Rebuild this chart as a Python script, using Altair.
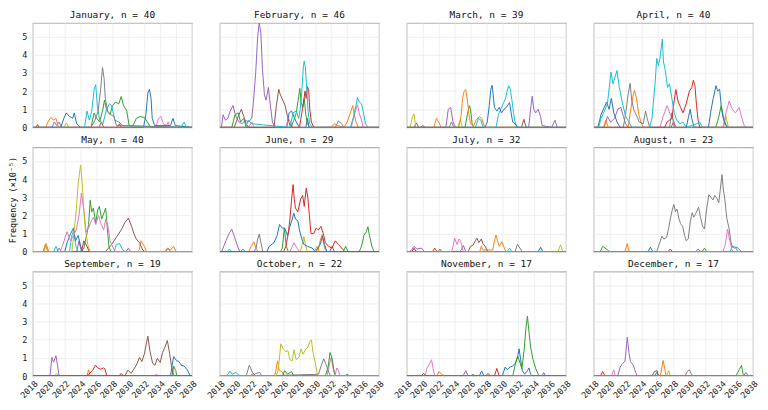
import altair as alt
import pandas as pd

TITLES = ["January, n = 40", "February, n = 46", "March, n = 39", "April, n = 40",
          "May, n = 40", "June, n = 29", "July, n = 32", "August, n = 23",
          "September, n = 19", "October, n = 22", "November, n = 17", "December, n = 17"]

COLOR_NAMES = ["blue", "orange", "green", "red", "purple", "brown", "pink", "gray", "olive", "cyan"]
COLOR_HEX = ["#1f77b4", "#ff7f0e", "#2ca02c", "#d62728", "#9467bd", "#8c564b", "#e377c2", "#7f7f7f", "#bcbd22", "#17becf"]

X_TICKS = list(range(2018, 2039, 2))
Y_TICKS = [0, 1, 2, 3, 4, 5]

JAN = [
    ("red", [(2018.4, 0), (2018.6, 0.15), (2018.8, 0), (2028.6, 0), (2028.9, 0.2), (2029.1, 0)]),
    ("olive", [(2021.9, 0), (2022.2, 0.25), (2022.5, 0)]),
    ("brown", [(2026.3, 0), (2026.6, 0.3), (2026.9, 0)]),
    ("purple", [(2020.4, 0), (2020.7, 0.3), (2021.0, 0.1), (2021.3, 0.3), (2021.6, 0)]),
    ("orange", [(2019.6, 0), (2020.0, 0.4), (2020.3, 0.55), (2020.6, 0.4), (2020.9, 0.5), (2021.2, 0)]),
    ("pink", [(2033.4, 0), (2033.8, 0.5), (2034.1, 0.6), (2034.4, 0.2), (2034.8, 0.1), (2035.0, 0.3), (2035.2, 0)]),
    ("blue", [(2021.5, 0), (2021.9, 0.5), (2022.2, 0.8), (2022.6, 0.6), (2023.0, 0.5), (2023.2, 0.8), (2023.5, 0.2),
              (2024.0, 0), (2031.9, 0), (2032.2, 0.7), (2032.45, 1.9), (2032.65, 2.1), (2032.85, 1.6), (2033.0, 0.5),
              (2033.3, 0.1), (2035.3, 0.1), (2035.6, 0.5), (2035.9, 0.1)]),
    ("green", [(2025.3, 0), (2025.7, 0.8), (2026.0, 0.5), (2026.4, 0.3), (2026.8, 1.0), (2027.0, 1.5), (2027.3, 0.9),
               (2027.7, 0.7), (2028.0, 1.2), (2028.4, 1.4), (2028.8, 1.3), (2029.1, 1.7), (2029.4, 1.2), (2029.8, 0.9),
               (2030.1, 0.1), (2030.6, 0.1), (2031.0, 0.5), (2031.5, 0.6), (2032.0, 0.55), (2032.4, 0.3), (2032.8, 0)]),
    ("cyan", [(2024.5, 0), (2024.8, 0.9), (2025.1, 0.4), (2025.4, 0.9), (2025.7, 2.1), (2025.9, 2.35), (2026.1, 1.2),
              (2026.4, 0.4), (2026.8, 0.2), (2027.2, 0.9), (2027.6, 1.3), (2027.9, 1.2), (2028.3, 0.4), (2028.8, 0.3),
              (2029.3, 0.1), (2036.6, 0), (2037.0, 0.3), (2037.3, 0)]),
    ("gray", [(2025.3, 0), (2025.8, 0.4), (2026.2, 0.9), (2026.5, 2.0), (2026.75, 3.3), (2026.95, 2.7), (2027.1, 1.6),
              (2027.4, 0.9), (2027.8, 0.7), (2028.2, 0.6), (2028.5, 0.1)]),
]

FEB = [
    ("gray", [(2032.5, 0), (2032.9, 0.35), (2033.3, 0.2), (2033.6, 0)]),
    ("blue", [(2026.4, 0), (2026.7, 0.8), (2027.0, 0.9), (2027.3, 0.6), (2027.6, 0.3), (2028.0, 0), (2028.8, 0),
              (2029.0, 0.5), (2029.2, 0)]),
    ("orange", [(2032.0, 0), (2032.4, 0.2), (2032.8, 0.1), (2033.6, 0), (2034.0, 0.3), (2034.4, 0.8), (2034.7, 1.2),
                (2034.9, 0.7), (2035.1, 0.3), (2035.4, 0)]),
    ("pink", [(2021.6, 0), (2022.0, 0.3), (2022.3, 0), (2026.3, 0), (2026.6, 0.5), (2026.9, 0.3), (2027.2, 0),
              (2034.5, 0), (2034.8, 0.5), (2035.1, 1.0), (2035.3, 1.25), (2035.5, 0.8), (2035.8, 0.4), (2036.0, 0)]),
    ("brown", [(2019.8, 0), (2020.3, 0.6), (2020.7, 1.0), (2021.0, 0.6), (2021.3, 0.2), (2021.6, 0), (2024.8, 0),
               (2025.1, 1.2), (2025.4, 2.1), (2025.6, 1.8), (2025.9, 1.5), (2026.2, 1.2), (2026.5, 0.6), (2026.8, 0.1),
               (2027.1, 0)]),
    ("green", [(2019.5, 0), (2019.9, 0.7), (2020.3, 0.8), (2020.6, 0.3), (2021.0, 0.5), (2021.3, 0), (2026.9, 0),
               (2027.3, 0.4), (2027.6, 0.8), (2027.9, 1.7), (2028.05, 2.15), (2028.2, 1.4), (2028.4, 1.1), (2028.6, 1.6),
               (2028.8, 0.7), (2029.0, 0.2), (2029.3, 0)]),
    ("red", [(2028.0, 0), (2028.3, 0.8), (2028.5, 1.3), (2028.7, 2.0), (2028.85, 1.6), (2029.0, 2.25), (2029.15, 2.1),
             (2029.3, 1.0), (2029.5, 0.3), (2029.8, 0)]),
    ("cyan", [(2021.2, 0), (2021.6, 0.4), (2022.0, 0.2), (2026.8, 0), (2027.2, 0.8), (2027.6, 0.9), (2027.9, 0.5),
              (2028.1, 1.0), (2028.3, 2.0), (2028.5, 3.4), (2028.6, 3.65), (2028.75, 3.3), (2028.9, 2.2), (2029.1, 0.8),
              (2029.3, 0.2), (2029.6, 0), (2034.4, 0), (2034.8, 0.6), (2035.1, 1.2), (2035.3, 1.64), (2035.5, 1.4),
              (2035.8, 1.3), (2036.0, 0.9), (2036.3, 0.2), (2036.6, 0)]),
    ("purple", [(2018.2, 0), (2018.4, 0.7), (2018.7, 0.4), (2019.0, 0.5), (2019.3, 0.9), (2019.65, 1.2), (2020.0, 0.6),
                (2020.4, 0.3), (2020.8, 0.2), (2021.2, 0.4), (2021.6, 0.3), (2022.0, 0.5), (2022.2, 1.3), (2022.5, 3.0),
                (2022.75, 5.0), (2022.95, 5.75), (2023.15, 5.2), (2023.35, 3.2), (2023.6, 1.8), (2023.8, 1.5),
                (2024.1, 2.2), (2024.3, 1.4), (2024.6, 0.3), (2024.9, 0)]),
]

MAR = [
    ("red", [(2019.7, 0), (2020.0, 0.1), (2020.3, 0)]),
    ("gray", [(2023.3, 0), (2023.6, 0.3), (2023.9, 0)]),
    ("brown", [(2018.9, 0), (2019.2, 0.25), (2019.5, 0), (2032.4, 0), (2032.7, 0.45), (2033.0, 0)]),
    ("olive", [(2018.4, 0), (2018.7, 0.6), (2018.9, 0.75), (2019.1, 0), (2024.4, 0), (2024.7, 0.4), (2025.0, 0)]),
    ("green", [(2025.3, 0), (2025.6, 0.7), (2025.85, 1.2), (2026.0, 1.0), (2026.2, 0.2), (2026.4, 0)]),
    ("orange", [(2021.4, 0), (2021.7, 0.5), (2022.0, 0.3), (2022.3, 0), (2024.5, 0), (2024.8, 0.6), (2025.0, 1.6),
                (2025.2, 2.0), (2025.4, 2.08), (2025.6, 1.5), (2025.8, 0.7), (2026.0, 0.2), (2026.4, 0.1),
                (2026.7, 0.4), (2027.1, 0.6), (2027.4, 0.5), (2027.7, 0.1), (2028.0, 0)]),
    ("purple", [(2022.9, 0), (2023.2, 1.0), (2023.5, 1.1), (2023.8, 0.3), (2024.1, 0), (2033.3, 0), (2033.55, 1.0),
                (2033.75, 1.72), (2033.95, 1.0), (2034.2, 0.8), (2034.5, 1.0), (2034.8, 0.6), (2035.0, 0.1),
                (2036.2, 0), (2036.6, 0.4), (2036.9, 0)]),
    ("cyan", [(2026.6, 0), (2027.0, 0.5), (2027.3, 0.4), (2027.6, 0), (2029.2, 0), (2029.5, 0.7), (2029.8, 1.0),
              (2030.1, 1.3), (2030.4, 1.6), (2030.6, 2.0), (2030.8, 2.3), (2031.0, 2.1), (2031.2, 1.5), (2031.4, 0.8),
              (2031.6, 0.3), (2031.9, 0)]),
    ("blue", [(2027.8, 0), (2028.1, 0.3), (2028.35, 1.2), (2028.55, 2.1), (2028.7, 2.32), (2028.85, 1.8), (2029.0, 1.1),
              (2029.3, 0.9), (2029.6, 1.1), (2029.9, 0.8), (2030.2, 1.0), (2030.5, 1.1), (2030.9, 1.37), (2031.1, 0.8),
              (2031.3, 0.3), (2031.6, 0.2), (2031.9, 0)]),
]

APR = [
    ("brown", [(2027.7, 0), (2028.0, 0.3), (2028.3, 0)]),
    ("olive", [(2034.3, 0), (2034.6, 0.6), (2034.9, 0)]),
    ("green", [(2033.3, 0), (2033.6, 0.4), (2034.0, 1.2), (2034.3, 0.5), (2034.6, 0.1), (2034.9, 0)]),
    ("purple", [(2019.3, 0), (2019.7, 0.6), (2020.1, 0.3), (2020.6, 0.5), (2021.0, 1.0), (2021.4, 1.1), (2021.7, 0.6),
                (2022.0, 0.2), (2022.3, 0)]),
    ("pink", [(2026.3, 0), (2026.7, 0.6), (2027.2, 1.2), (2027.6, 0.7), (2028.0, 0.4), (2028.3, 0), (2034.2, 0),
              (2034.6, 0.8), (2035.0, 1.45), (2035.4, 1.0), (2035.8, 0.8), (2036.25, 1.1), (2036.6, 0.5),
              (2036.9, 0.1), (2037.1, 0)]),
    ("orange", [(2019.2, 0), (2019.5, 0.4), (2019.8, 0), (2022.3, 0), (2022.6, 0.9), (2022.9, 1.7), (2023.1, 2.04),
                (2023.35, 1.6), (2023.65, 0.7), (2023.9, 0.3), (2024.2, 0)]),
    ("gray", [(2021.7, 0), (2022.0, 0.8), (2022.3, 1.8), (2022.55, 2.43), (2022.75, 1.5), (2023.0, 1.0), (2023.4, 0.6),
              (2023.7, 0.3), (2024.2, 0.2), (2024.5, 0.9), (2024.7, 0.5), (2025.0, 0), (2027.5, 0), (2027.8, 0.8),
              (2028.1, 0)]),
    ("blue", [(2018.5, 0), (2018.9, 0.7), (2019.3, 1.1), (2019.6, 1.4), (2019.9, 1.0), (2020.2, 1.6), (2020.5, 0.8),
              (2020.9, 0.3), (2021.3, 0), (2029.6, 0), (2029.9, 0.6), (2030.1, 1.0), (2030.3, 0.5), (2030.6, 0),
              (2032.4, 0), (2032.7, 0.9), (2033.0, 1.6), (2033.35, 2.3), (2033.55, 2.0), (2033.8, 2.1),
              (2034.0, 1.2), (2034.2, 0.6), (2034.5, 0.2), (2034.8, 0)]),
    ("red", [(2026.9, 0), (2027.2, 0.3), (2027.8, 0.5), (2028.1, 1.5), (2028.3, 2.08), (2028.6, 1.4), (2028.9, 1.1),
             (2029.2, 0.8), (2029.6, 1.3), (2030.0, 2.0), (2030.3, 2.2), (2030.5, 2.6), (2030.7, 2.3), (2030.9, 1.2),
             (2031.1, 0.4), (2031.3, 0)]),
    ("cyan", [(2018.6, 0), (2018.9, 0.5), (2019.7, 1.3), (2020.15, 3.05), (2020.4, 2.4), (2020.9, 3.13), (2021.2, 2.2),
              (2021.6, 1.3), (2022.0, 0.6), (2022.4, 0.3), (2022.8, 0), (2025.0, 0), (2025.3, 0.5), (2025.7, 2.5),
              (2025.9, 3.8), (2026.1, 3.4), (2026.3, 3.8), (2026.6, 4.86), (2026.75, 3.6), (2026.95, 3.2),
              (2027.25, 2.2), (2027.5, 2.4), (2027.8, 1.6), (2028.1, 0.8), (2028.4, 0.4), (2028.8, 0.2),
              (2029.2, 0.3), (2029.6, 0), (2030.9, 0.2), (2031.3, 0.3), (2031.6, 0)]),
]

MAY = [
    ("gray", [(2034.7, 0), (2035.0, 0.2), (2035.3, 0)]),
    ("purple", [(2021.0, 0), (2021.3, 0.2), (2021.6, 0), (2023.5, 0), (2023.8, 0.6), (2024.1, 0), (2029.7, 0),
                (2030.0, 0.2), (2030.3, 0)]),
    ("red", [(2019.3, 0), (2019.6, 0.4), (2019.9, 0), (2024.1, 0), (2024.4, 0.6), (2024.8, 0.3), (2025.1, 0)]),
    ("orange", [(2019.3, 0), (2019.65, 0.45), (2020.0, 0), (2031.3, 0), (2031.6, 0.6), (2032.0, 0.3), (2032.3, 0),
                (2034.6, 0), (2034.9, 0.2), (2035.3, 0.1), (2035.7, 0.3), (2036.0, 0)]),
    ("cyan", [(2020.6, 0), (2020.9, 0.3), (2021.2, 0), (2022.6, 0), (2022.9, 0.9), (2023.15, 1.2), (2023.4, 0.3),
              (2023.7, 0), (2028.2, 0), (2028.5, 0.4), (2028.9, 0.45), (2029.3, 0.1), (2029.6, 0)]),
    ("blue", [(2022.0, 0), (2022.3, 0.5), (2022.75, 1.0), (2023.1, 1.3), (2023.35, 0.6), (2023.7, 0.9), (2024.0, 0.3),
              (2024.3, 0)]),
    ("brown", [(2027.1, 0), (2027.9, 0.4), (2028.5, 0.8), (2029.1, 1.2), (2029.55, 1.6), (2030.0, 1.85),
               (2030.4, 1.4), (2030.7, 1.0), (2031.0, 0.7), (2031.4, 0.5), (2031.8, 0.1), (2032.1, 0)]),
    ("green", [(2024.1, 0), (2024.4, 0.2), (2024.8, 1.0), (2025.0, 1.5), (2025.2, 2.83), (2025.4, 2.2), (2025.6, 2.4),
               (2025.9, 1.6), (2026.15, 2.3), (2026.35, 2.5), (2026.65, 1.8), (2026.9, 2.1), (2027.15, 2.4),
               (2027.35, 1.3), (2027.55, 0.3), (2027.8, 0)]),
    ("pink", [(2021.4, 0), (2021.7, 0.3), (2022.3, 1.1), (2022.75, 0.6), (2023.45, 1.2), (2023.8, 2.0), (2024.1, 3.23),
              (2024.4, 2.3), (2024.7, 1.1), (2025.0, 1.3), (2025.35, 1.7), (2025.6, 1.9), (2025.9, 1.5),
              (2026.25, 2.0), (2026.6, 1.5), (2026.9, 1.2), (2027.15, 1.8), (2027.4, 1.5), (2027.7, 0.6),
              (2028.1, 0.2), (2028.4, 0)]),
    ("olive", [(2019.4, 0), (2019.65, 0.35), (2019.9, 0), (2022.9, 0), (2023.15, 1.0), (2023.45, 2.3), (2023.7, 3.8),
               (2024.0, 4.77), (2024.2, 3.8), (2024.4, 2.3), (2024.6, 1.2), (2024.9, 0.4), (2025.2, 0)]),
]

JUN = [
    ("brown", [(2031.8, 0), (2032.1, 0.3), (2032.4, 0)]),
    ("cyan", [(2018.9, 0), (2019.2, 0.15), (2019.5, 0), (2020.6, 0), (2020.9, 0.15), (2021.2, 0)]),
    ("pink", [(2026.8, 0), (2027.1, 0.3), (2027.3, 0.5), (2027.7, 0.2), (2028.0, 0)]),
    ("olive", [(2028.1, 0), (2028.35, 0.4), (2028.55, 0.85), (2028.75, 0.4), (2029.0, 0), (2029.9, 0),
               (2030.2, 0.3), (2030.5, 0)]),
    ("orange", [(2021.6, 0), (2021.95, 0.3), (2022.25, 0.55), (2022.55, 0.2), (2022.8, 0), (2030.3, 0),
                (2030.6, 0.6), (2030.85, 0.95), (2031.0, 0.5), (2031.25, 0.1), (2031.5, 0)]),
    ("gray", [(2022.3, 0), (2022.55, 0.2), (2022.75, 0.7), (2022.95, 0.97), (2023.2, 0.4), (2023.4, 0)]),
    ("purple", [(2018.2, 0), (2018.4, 0.2), (2018.75, 0.6), (2019.15, 1.0), (2019.5, 1.24), (2019.85, 0.8),
                (2020.15, 0.4), (2020.5, 0)]),
    ("green", [(2025.6, 0), (2025.85, 0.2), (2026.1, 1.3), (2026.35, 0.3), (2026.6, 0), (2033.5, 0), (2033.8, 0.3),
               (2034.1, 0), (2035.5, 0), (2035.8, 0.3), (2036.1, 0.9), (2036.4, 1.1), (2036.6, 1.38), (2036.8, 0.9),
               (2037.1, 0.3), (2037.4, 0)]),
    ("blue", [(2023.9, 0), (2024.2, 0.3), (2024.8, 0.5), (2025.2, 0.9), (2025.5, 1.5), (2025.85, 1.3), (2026.15, 1.3),
              (2026.5, 0.9), (2026.8, 1.4), (2027.1, 1.8), (2027.3, 2.12), (2027.5, 1.8), (2027.8, 1.7), (2028.0, 1.2),
              (2028.3, 0.7), (2028.55, 0.4), (2029.0, 0.3), (2029.6, 0.2), (2030.0, 0), (2030.6, 0.4), (2030.9, 0.85),
              (2031.15, 0.4), (2031.45, 0)]),
    ("red", [(2026.0, 0), (2026.3, 0.3), (2026.6, 1.0), (2026.8, 1.8), (2027.0, 2.8), (2027.2, 3.7), (2027.35, 2.9),
             (2027.5, 2.4), (2027.8, 2.2), (2028.15, 2.9), (2028.4, 3.1), (2028.6, 2.5), (2028.85, 3.5),
             (2029.05, 3.0), (2029.25, 2.0), (2029.45, 1.0), (2029.8, 1.0), (2030.1, 1.3), (2030.4, 1.2),
             (2030.7, 1.4), (2031.0, 1.0), (2031.25, 0.5), (2031.65, 0.3), (2032.1, 0.2), (2032.5, 0.6),
             (2032.9, 0.4), (2033.3, 0.2), (2033.7, 0)]),
]

JUL = [
    ("red", [(2018.6, 0), (2018.9, 0.2), (2019.2, 0), (2021.2, 0), (2021.5, 0.2), (2021.8, 0)]),
    ("green", [(2021.9, 0), (2022.15, 0.15), (2022.4, 0)]),
    ("blue", [(2034.5, 0), (2034.8, 0.25), (2035.1, 0)]),
    ("cyan", [(2030.6, 0), (2030.9, 0.2), (2031.2, 0)]),
    ("purple", [(2018.3, 0), (2018.6, 0.1), (2018.9, 0.3), (2019.25, 0.15), (2019.85, 0.2), (2020.2, 0),
                (2024.6, 0), (2024.85, 0.1), (2025.1, 0.35), (2025.4, 0)]),
    ("olive", [(2037.0, 0), (2037.3, 0.38), (2037.6, 0)]),
    ("gray", [(2031.6, 0), (2031.9, 0.42), (2032.2, 0.2), (2032.5, 0)]),
    ("orange", [(2027.15, 0), (2027.35, 0.3), (2027.55, 0.1), (2028.8, 0.1), (2029.0, 0.6), (2029.2, 0.92),
                (2029.4, 0.6), (2029.6, 0.3), (2029.95, 0.55), (2030.25, 0.2), (2030.45, 0)]),
    ("brown", [(2025.7, 0), (2026.0, 0.3), (2026.3, 0.35), (2026.6, 0.6), (2026.8, 0.75), (2027.05, 0.5),
               (2027.35, 0.7), (2027.55, 0.45), (2027.85, 0.3), (2028.15, 0)]),
    ("pink", [(2023.6, 0), (2023.8, 0.3), (2024.0, 0.75), (2024.3, 0.4), (2024.55, 0.7), (2024.75, 0.6),
              (2024.95, 0.2), (2025.1, 0)]),
]

AUG = [
    ("purple", [(2030.8, 0), (2031.1, 0.15), (2031.4, 0)]),
    ("red", [(2027.3, 0), (2027.6, 0.15), (2027.9, 0)]),
    ("blue", [(2024.8, 0), (2025.1, 0.25), (2025.4, 0)]),
    ("cyan", [(2035.1, 0), (2035.4, 0.3), (2035.8, 0.25), (2036.1, 0)]),
    ("green", [(2018.8, 0), (2019.1, 0.3), (2019.7, 0.1), (2020.0, 0), (2031.6, 0), (2031.9, 0.2), (2032.2, 0)]),
    ("orange", [(2021.9, 0), (2022.1, 0.3), (2022.2, 0.45), (2022.35, 0.1), (2022.5, 0)]),
    ("pink", [(2034.2, 0), (2034.45, 0.3), (2034.65, 0.8), (2034.8, 1.25), (2034.95, 0.9), (2035.15, 0.5),
              (2035.35, 0.1), (2035.5, 0)]),
    ("gray", [(2025.9, 0), (2026.2, 0.4), (2026.55, 0.85), (2026.8, 0.7), (2027.15, 0.8), (2027.4, 1.3),
              (2027.6, 1.8), (2027.85, 2.3), (2028.05, 2.6), (2028.25, 2.2), (2028.45, 2.35), (2028.7, 1.8),
              (2028.9, 1.55), (2029.15, 1.4), (2029.4, 0.9), (2029.6, 0.6), (2029.85, 0.7), (2030.1, 1.6),
              (2030.35, 2.15), (2030.55, 1.9), (2030.8, 2.1), (2031.15, 2.45), (2031.4, 1.9), (2031.65, 1.4),
              (2031.9, 1.25), (2032.15, 2.3), (2032.45, 3.15), (2032.7, 3.0), (2032.95, 2.85), (2033.2, 3.1),
              (2033.45, 2.95), (2033.7, 2.7), (2033.9, 3.5), (2034.1, 4.24), (2034.25, 3.5), (2034.45, 2.9),
              (2034.7, 1.85), (2035.0, 1.25), (2035.2, 0.6), (2035.4, 0.25), (2035.7, 0.2), (2036.0, 0.25),
              (2036.3, 0.1), (2036.6, 0)]),
]

SEP = [
    ("pink", [(2033.2, 0), (2033.5, 0.1), (2033.8, 0)]),
    ("olive", [(2020.7, 0), (2021.0, 0.15), (2021.3, 0)]),
    ("orange", [(2024.8, 0), (2025.0, 0.35), (2025.2, 0)]),
    ("red", [(2024.7, 0), (2025.0, 0.1), (2025.5, 0.3), (2025.85, 0.6), (2026.15, 0.45), (2026.5, 0.38),
             (2026.85, 0.45), (2027.05, 0.4), (2027.3, 0), (2028.8, 0), (2029.1, 0.15), (2029.4, 0)]),
    ("purple", [(2020.15, 0), (2020.4, 1.03), (2020.6, 0.77), (2020.9, 1.12), (2021.1, 0.6), (2021.3, 0)]),
    ("green", [(2035.5, 0), (2035.7, 0.55), (2035.95, 0.3), (2036.1, 0)]),
    ("blue", [(2035.3, 0), (2035.5, 0.6), (2035.7, 1.08), (2036.05, 0.85), (2036.35, 0.8), (2036.65, 0.6),
              (2037.0, 0.55), (2037.4, 0.35), (2037.8, 0)]),
    ("brown", [(2029.55, 0), (2029.95, 0.33), (2030.35, 0.15), (2031.0, 0.6), (2031.4, 1.03), (2031.7, 0.8),
               (2032.0, 1.2), (2032.45, 2.2), (2032.7, 1.4), (2033.05, 0.7), (2033.35, 0.6), (2033.65, 0.98),
               (2034.0, 0.75), (2034.3, 1.3), (2034.6, 1.6), (2034.9, 1.96), (2035.2, 1.2), (2035.4, 0.6),
               (2035.65, 0.1), (2035.95, 0)]),
]

OCT = [
    ("red", [(2021.8, 0), (2022.1, 0.1), (2022.4, 0)]),
    ("blue", [(2033.7, 0), (2034.0, 0.1), (2034.3, 0)]),
    ("purple", [(2022.2, 0), (2022.5, 0.15), (2023.0, 0.2), (2023.3, 0)]),
    ("cyan", [(2018.8, 0), (2019.0, 0.1), (2019.25, 0.28), (2019.55, 0.1), (2020.05, 0.2), (2020.5, 0)]),
    ("orange", [(2024.7, 0), (2024.95, 0.1), (2025.25, 0.84), (2025.45, 0.3), (2025.8, 0.25), (2026.1, 0)]),
    ("pink", [(2031.45, 0), (2031.75, 0.6), (2032.0, 1.05), (2032.2, 0.5), (2032.5, 0.1), (2032.7, 0.45),
              (2032.9, 0.3), (2033.1, 0)]),
    ("green", [(2025.85, 0), (2026.15, 0.3), (2026.5, 0.1), (2027.0, 0.25), (2027.3, 0), (2031.25, 0),
               (2031.6, 0.5), (2031.85, 1.3), (2032.15, 0.9), (2032.35, 0.2), (2032.55, 0)]),
    ("gray", [(2021.3, 0), (2021.7, 0.6), (2022.1, 0.2), (2022.55, 0), (2030.4, 0.1), (2030.75, 0.6), (2031.05, 0.95),
              (2031.3, 0.7), (2031.6, 0.3), (2031.9, 0)]),
    ("olive", [(2025.0, 0), (2025.25, 0.2), (2025.45, 0.8), (2025.65, 1.78), (2025.95, 1.5), (2026.3, 1.35),
               (2026.55, 1.4), (2026.8, 0.9), (2027.1, 0.85), (2027.3, 1.45), (2027.6, 0.9), (2027.95, 1.05),
               (2028.2, 1.5), (2028.45, 1.2), (2028.75, 1.45), (2029.05, 1.6), (2029.3, 1.9), (2029.5, 2.0),
               (2029.7, 1.3), (2030.0, 0.7), (2030.25, 0.1), (2030.5, 0)]),
]

NOV = [
    ("gray", [(2026.0, 0), (2026.3, 0.1), (2026.6, 0)]),
    ("brown", [(2019.8, 0), (2020.1, 0.15), (2020.4, 0), (2027.9, 0), (2028.2, 0.15), (2028.5, 0)]),
    ("purple", [(2025.05, 0), (2025.4, 0.3), (2025.7, 0), (2035.0, 0), (2035.2, 0.2), (2035.4, 0)]),
    ("orange", [(2021.75, 0), (2022.05, 0.25), (2022.35, 0.1), (2022.8, 0)]),
    ("red", [(2029.0, 0), (2029.3, 0.42), (2029.6, 0)]),
    ("pink", [(2020.3, 0), (2020.5, 0.4), (2020.8, 0.65), (2021.1, 0.9), (2021.3, 0.4), (2021.5, 0)]),
    ("blue", [(2027.1, 0), (2027.4, 0.28), (2027.7, 0), (2030.0, 0), (2030.35, 0.5), (2030.65, 0.35), (2030.95, 0.5),
              (2031.3, 0.55), (2031.6, 0.7), (2031.9, 1.0), (2032.1, 1.5), (2032.3, 0.9), (2032.5, 0.3),
              (2032.8, 0.1), (2033.15, 0.3), (2033.35, 0.45), (2033.55, 0.1), (2033.8, 0)]),
    ("green", [(2031.3, 0), (2031.6, 0.6), (2031.9, 1.1), (2032.1, 0.9), (2032.45, 0.4), (2032.75, 1.5),
               (2032.95, 2.6), (2033.15, 3.3), (2033.35, 2.4), (2033.55, 1.6), (2033.85, 0.9), (2034.2, 0.4),
               (2034.5, 0.1), (2034.7, 0)]),
]

DEC = [
    ("blue", [(2025.6, 0), (2025.9, 0.2), (2026.2, 0)]),
    ("red", [(2018.8, 0), (2019.1, 0.25), (2019.4, 0)]),
    ("brown", [(2025.3, 0), (2025.6, 0.25), (2025.95, 0.3), (2026.1, 0)]),
    ("olive", [(2027.15, 0), (2027.4, 0.3), (2027.6, 0)]),
    ("gray", [(2029.45, 0), (2029.75, 0.25), (2030.0, 0.35), (2030.25, 0.1), (2030.5, 0), (2036.8, 0), (2037.1, 0.2),
              (2037.4, 0)]),
    ("pink", [(2020.2, 0), (2020.5, 0.35), (2020.7, 0)]),
    ("green", [(2035.85, 0), (2036.2, 0.3), (2036.55, 0.6), (2036.75, 0.1), (2036.95, 0)]),
    ("orange", [(2026.35, 0), (2026.7, 0.86), (2026.9, 0.4), (2027.1, 0)]),
    ("purple", [(2021.0, 0), (2021.3, 0.5), (2021.6, 0.7), (2021.9, 0.8), (2022.2, 2.14), (2022.4, 1.3),
                (2022.6, 0.8), (2022.95, 0.6), (2023.25, 0.2), (2023.45, 0)]),
]

PANELS = [JAN, FEB, MAR, APR, MAY, JUN, JUL, AUG, SEP, OCT, NOV, DEC]

rows = []
for p, series in enumerate(PANELS):
    for s, (c, pts) in enumerate(series):
        full = [(2018.0, 0.0)] + list(pts) + [(2038.0, 0.0)]
        for k, (x, y) in enumerate(full):
            rows.append({"panel": p, "sid": f"{p}-{s:02d}", "color": c, "year": x, "value": y, "k": k})
df = pd.DataFrame(rows)

W, H = 160, 105
MONO = "DejaVu Sans Mono"

panels = []
for i in range(12):
    r, c = divmod(i, 4)
    if r == 2:
        xaxis = alt.Axis(values=X_TICKS, format="d", labelAngle=-45, labelFontSize=8.5, labelPadding=3,
                         labelOverlap=False, labelBound=False, labelFlush=False,
                         ticks=False, domain=False, title=None)
    else:
        xaxis = alt.Axis(values=X_TICKS, labels=False, ticks=False, domain=False, title=None)
    if c == 0:
        yaxis = alt.Axis(values=Y_TICKS, labelFontSize=8.5, labelPadding=6, ticks=False, domain=False,
                         title="Frequency (×10⁻⁵)" if r == 1 else None, titleFontSize=8.5,
                         titleFont=MONO, titleFontWeight="normal", titlePadding=4)
    else:
        yaxis = alt.Axis(values=Y_TICKS, labels=False, ticks=False, domain=False, title=None)
    ch = alt.Chart(df[df.panel == i]).mark_line(strokeWidth=1, clip=True).encode(
        x=alt.X("year:Q", scale=alt.Scale(domain=[2018, 2038], nice=False, zero=False), axis=xaxis),
        y=alt.Y("value:Q", scale=alt.Scale(domain=[0, 5.75], nice=False), axis=yaxis),
        color=alt.Color("color:N", scale=alt.Scale(domain=COLOR_NAMES, range=COLOR_HEX), legend=None),
        detail="sid:N",
        order="k:Q",
    ).properties(
        width=W, height=H,
        title=alt.TitleParams(TITLES[i], font=MONO, fontSize=9.5, fontWeight="normal", offset=3, color="#111"),
    )
    panels.append(ch)

chart = alt.concat(*panels, columns=4, spacing={"row": 20, "column": 28}, bounds="flush").properties(
    padding=0
).configure_view(
    stroke="#b3b3b3", strokeWidth=1.2
).configure_axis(
    labelFont=MONO, labelColor="#222", gridColor="#ebebeb", gridWidth=0.8
)

chart.save("out.html", embed_options={"renderer": "svg", "actions": False})
